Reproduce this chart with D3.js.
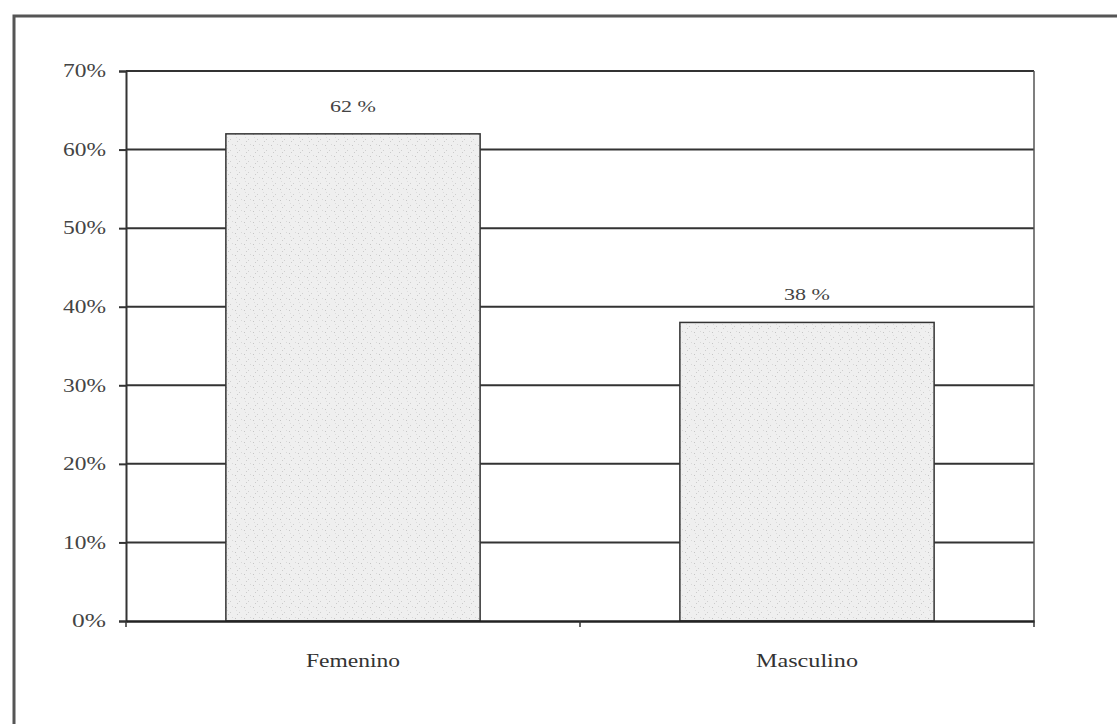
<!DOCTYPE html>
<html><head><meta charset="utf-8">
<script src="https://cdn.jsdelivr.net/npm/d3@7/dist/d3.min.js"></script>
<style>body{margin:0;background:#fff}svg{display:block}</style>
</head><body>
<svg id="c" width="1117" height="724"></svg>
<script>
const categories = ["Femenino", "Masculino"];
const values = [62, 38];
const valueLabels = ["62 %", "38 %"];
const yTicks = [0, 10, 20, 30, 40, 50, 60, 70];

const svg = d3.select("#c");
const W = 1117, H = 724;
const m = {left:126, right:1034, top:71, bottom:621};

// stipple pattern
const defs = svg.append("defs");
const pat = defs.append("pattern").attr("id","stip").attr("patternUnits","userSpaceOnUse")
  .attr("width",9).attr("height",11);
pat.append("rect").attr("width",9).attr("height",11).attr("fill","#efefef");
[[1,2,"#c4c4c4"],[5,7,"#cfcfcf"],[7,1,"#d8d8d8"],[3,9,"#cbcbcb"],[2,5,"#dcdcdc"]].forEach(([x,y,c])=>{
  pat.append("rect").attr("x",x).attr("y",y).attr("width",1).attr("height",1).attr("fill",c);
});

// outer frame
svg.append("rect").attr("x",14).attr("y",16).attr("width",W+20).attr("height",H+20)
  .attr("fill","none").attr("stroke","#555").attr("stroke-width",3);

const x = d3.scaleBand().domain(categories).range([m.left, m.right]).paddingInner(0).paddingOuter(0);
const y = d3.scaleLinear().domain([0,70]).range([m.bottom, m.top]);
const barW = x.bandwidth()*0.56;

// gridlines
svg.append("g").selectAll("line").data(yTicks.filter(d=>d>0)).join("line")
  .attr("x1",m.left).attr("x2",m.right).attr("y1",d=>y(d)).attr("y2",d=>y(d))
  .attr("stroke","#333").attr("stroke-width",2);

// right border of plot area
svg.append("line").attr("x1",m.right).attr("x2",m.right).attr("y1",m.top).attr("y2",m.bottom)
  .attr("stroke","#555").attr("stroke-width",1.5);

// bars
svg.append("g").selectAll("rect").data(values).join("rect")
  .attr("x",(d,i)=>x(categories[i])+x.bandwidth()/2-barW/2)
  .attr("y",d=>y(d)).attr("width",barW).attr("height",d=>m.bottom-y(d))
  .attr("fill","url(#stip)").attr("stroke","#333").attr("stroke-width",1.5);

// value labels
svg.append("g").selectAll("text").data(values).join("text")
  .attr("x",(d,i)=>x(categories[i])+x.bandwidth()/2)
  .attr("y",d=>y(d)-22)
  .attr("text-anchor","middle").attr("font-family","Liberation Serif").attr("font-size",17)
  .attr("fill","#444").attr("textLength",46).attr("lengthAdjust","spacingAndGlyphs")
  .text((d,i)=>valueLabels[i]);

// y axis
const yAxis = svg.append("g").attr("transform",`translate(${m.left},0)`)
  .call(d3.axisLeft(y).tickValues(yTicks).tickFormat(d=>d+"%").tickSize(7).tickPadding(13));
yAxis.select(".domain").attr("stroke","#333").attr("stroke-width",2);
yAxis.selectAll(".tick line").attr("stroke","#333").attr("stroke-width",2);
yAxis.selectAll(".tick text").attr("font-family","Liberation Serif").attr("font-size",18)
  .attr("fill","#444").attr("textLength",d=>d===0?34:43).attr("lengthAdjust","spacingAndGlyphs");

// x axis
const catLen = {"Femenino":94, "Masculino":102};
const xAxis = svg.append("g").attr("transform",`translate(0,${m.bottom})`)
  .call(d3.axisBottom(x).tickSize(0).tickPadding(33));
xAxis.select(".domain").attr("stroke","#222").attr("stroke-width",2.5);
xAxis.selectAll(".tick text").attr("font-family","Liberation Serif").attr("font-size",19).attr("fill","#333")
  .attr("textLength",d=>catLen[d]).attr("lengthAdjust","spacingAndGlyphs");
svg.append("g").selectAll("line").data([m.left, (m.left+m.right)/2, m.right]).join("line")
  .attr("x1",d=>d).attr("x2",d=>d).attr("y1",m.bottom).attr("y2",m.bottom+6)
  .attr("stroke","#333").attr("stroke-width",1.5);
</script>
</body></html>
